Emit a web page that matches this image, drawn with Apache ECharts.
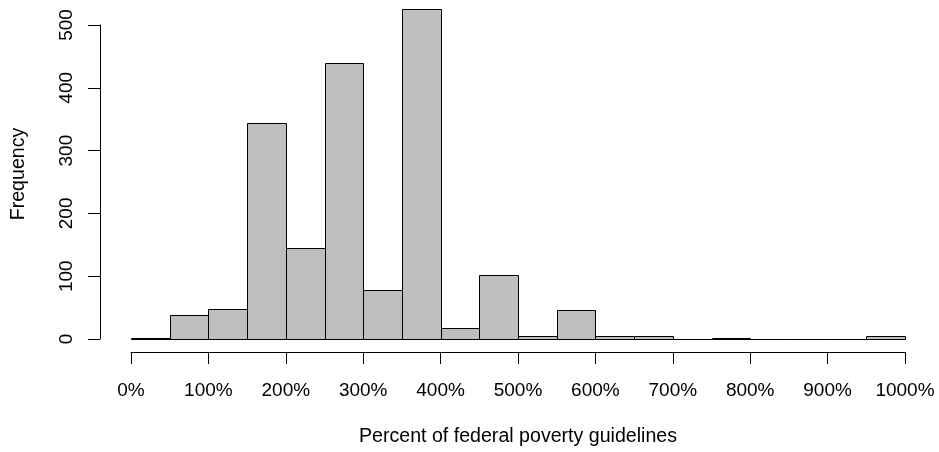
<!DOCTYPE html>
<html>
<head>
<meta charset="utf-8">
<script src="https://cdn.jsdelivr.net/npm/echarts@6/dist/echarts.min.js"></script>
<style>
  html, body { margin: 0; padding: 0; background: #ffffff; }
  #chart { width: 939px; height: 452px; }
</style>
</head>
<body>
<div id="chart"></div>
<script>
// Histogram of income as percent of federal poverty guidelines, 50%-wide bins
const binStart = [0, 50, 100, 150, 200, 250, 300, 350, 400, 450,
                  500, 550, 600, 650, 700, 750, 800, 850, 900, 950];
const binWidth = 50;
const counts = [1, 39, 48, 344, 145, 439, 78, 525, 18, 102,
                5, 46, 4, 4, 0, 2, 0, 0, 0, 5];
const xTicks = [0, 100, 200, 300, 400, 500, 600, 700, 800, 900, 1000];
const yTicks = [0, 100, 200, 300, 400, 500];

const FONT = 'Liberation Sans, Arial, Helvetica, sans-serif';
const FS = 19;

const chart = echarts.init(document.getElementById('chart'), null, { renderer: 'canvas' });

const bins = binStart.map((s, i) => [s, s + binWidth, counts[i]]);

chart.setOption({
  animation: false,
  backgroundColor: '#ffffff',
  grid: { left: 131, right: 34, top: 25, bottom: 113, containLabel: false },
  xAxis: {
    type: 'value',
    min: xTicks[0],
    max: xTicks[xTicks.length - 1],
    interval: 100,
    offset: 13,
    name: 'Percent of federal poverty guidelines',
    nameLocation: 'middle',
    nameGap: 75,
    nameTextStyle: { color: '#000', fontFamily: FONT, fontSize: 19.6 },
    axisLine: { show: true, onZero: false, lineStyle: { color: '#000', width: 1 } },
    axisTick: { show: true, length: 12, lineStyle: { color: '#000', width: 1 } },
    axisLabel: {
      color: '#000', fontFamily: FONT, fontSize: FS, margin: 29,
      formatter: v => v + '%',
      showMinLabel: true, showMaxLabel: true
    },
    splitLine: { show: false }
  },
  yAxis: {
    type: 'value',
    min: yTicks[0],
    max: yTicks[yTicks.length - 1],
    interval: 100,
    offset: 31,
    axisLine: { show: true, onZero: false, lineStyle: { color: '#000', width: 1 } },
    axisTick: { show: true, length: 12, lineStyle: { color: '#000', width: 1 } },
    axisLabel: {
      color: '#000', fontFamily: FONT, fontSize: FS, margin: 24, rotate: 90,
      showMinLabel: true, showMaxLabel: true
    },
    splitLine: { show: false }
  },
  graphic: [{
    type: 'text',
    x: 19,
    y: 174,
    rotation: Math.PI / 2,
    style: {
      text: 'Frequency',
      fill: '#000',
      font: '19.6px ' + FONT,
      align: 'center',
      verticalAlign: 'middle'
    }
  }],
  series: [{
    type: 'custom',
    clip: false,
    data: bins,
    encode: { x: [0, 1], y: 2 },
    renderItem: function (params, api) {
      const p0 = api.coord([api.value(0), api.value(2)]);
      const p1 = api.coord([api.value(1), 0]);
      return {
        type: 'rect',
        shape: {
          x: Math.round(p0[0]) + 0.5,
          y: Math.round(p0[1]) + 0.5,
          width: Math.round(p1[0]) - Math.round(p0[0]),
          height: Math.round(p1[1]) - Math.round(p0[1])
        },
        style: { fill: '#BEBEBE', stroke: '#000', lineWidth: 1 }
      };
    }
  }]
});
</script>
</body>
</html>
